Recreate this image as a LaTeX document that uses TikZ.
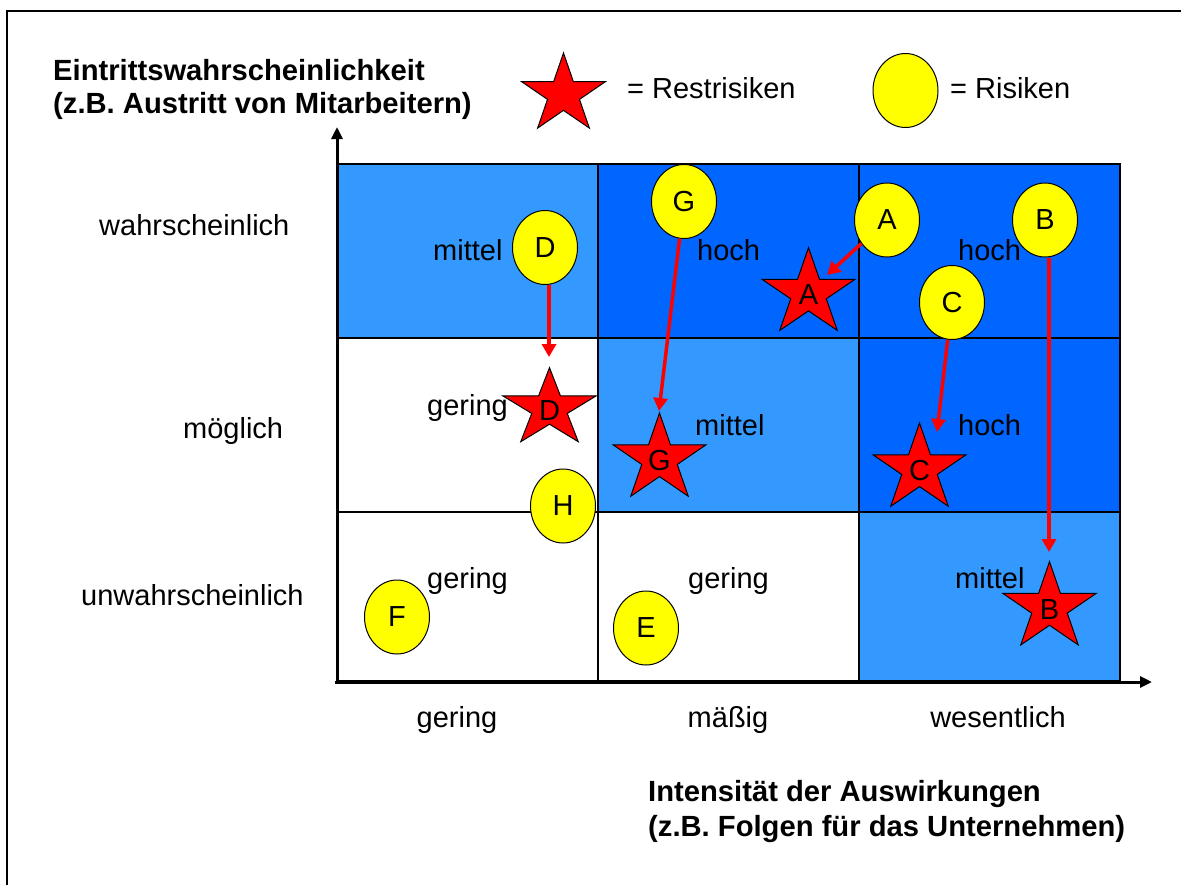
\documentclass[tikz,border=0pt]{standalone}
\usepackage{fontspec}
\setmainfont{Liberation Sans}
\usetikzlibrary{arrows.meta,calc,shapes.geometric}
\definecolor{lightblue}{RGB}{51,153,255}
\definecolor{darkblue}{RGB}{0,102,255}
\definecolor{riskyellow}{RGB}{255,255,0}
\definecolor{starred}{RGB}{255,0,0}
\tikzset{
  lbl/.style={font=\fontsize{29}{33}\selectfont, inner sep=0pt, anchor=base west},
  ttl/.style={font=\fontsize{29.2}{33}\selectfont\bfseries, inner sep=0pt, anchor=base west},
  collbl/.style={font=\fontsize{29}{33}\selectfont, inner sep=0pt, anchor=base},
  risk/.style={ellipse, draw=black, line width=1pt, fill=riskyellow, minimum width=65pt, minimum height=74pt, inner sep=0pt, font=\fontsize{29}{33}\selectfont},
  starfill/.style={fill=starred, draw=black, line width=1pt, line join=miter},
  starlbl/.style={inner sep=0pt, font=\fontsize{29}{33}\selectfont},
  gridline/.style={draw=black, line width=1.3pt},
  axisline/.style={draw=black, line width=3pt, -{Triangle[length=12pt,width=11pt]}},
  riskarrow/.style={draw=starred, line width=3.5pt, -{Triangle[length=13pt,width=14pt]}},
}
\newcommand\riskstar[6]{% name, x, y, rx, ry, letter
  \coordinate (#1) at (#2,#3);
  \filldraw[starfill] plot[samples at={0,...,9}, variable=\k]
    ({#2+#4*(0.691+0.309*cos(180*\k))*cos(270+36*\k)},
     {#3+#5*(0.691+0.309*cos(180*\k))*sin(270+36*\k)}) -- cycle;
  \node[starlbl] (l#1) at ($(#1)+(0,1.5)$) {#6};
}
\begin{document}
\begin{tikzpicture}[x=1pt,y=-1pt]
\useasboundingbox (0,0) rectangle (1181,884);
\fill[white] (0,0) rectangle (1181,884);
% outer frame
\draw[line width=2pt] (7,890) -- (7,11) -- (1190,11);

% title
\node[ttl] (t1) at (53,80) {Eintrittswahrscheinlichkeit};
\node[ttl] (t2) at (53,113) {(z.B. Austritt von Mitarbeitern)};

% legend
\riskstar{legstar}{563.5}{94.5}{44}{41.5}{}
\node[lbl] (legstartxt) at (627,98) {= Restrisiken};
\node[risk] (legell) at (905.5,90.5) {};
\node[lbl] (legelltxt) at (950,98) {= Risiken};

% cells
\fill[lightblue] (337,164) rectangle (598,338);
\fill[darkblue] (598,164) rectangle (1120,338);
\fill[lightblue] (598,338) rectangle (859,512);
\fill[darkblue] (859,338) rectangle (1120,512);
\fill[lightblue] (859,512) rectangle (1120,681);
\draw[gridline] (337,164) rectangle (1120,681);
\draw[gridline] (598,164) -- (598,681);
\draw[gridline] (859,164) -- (859,681);
\draw[gridline] (337,338) -- (1120,338);
\draw[gridline] (337,512) -- (1120,512);

% axes
\coordinate (origin) at (337,682);
\coordinate (ytip) at (337,127);
\coordinate (xorig) at (335,682);
\coordinate (xtip) at (1152,682);
\draw[axisline] (origin) -- (ytip);
\draw[axisline] (xorig) -- (xtip);

% row labels
\node[lbl] (r1) at (99,235) {wahrscheinlich};
\node[lbl] (r2) at (183,438) {möglich};
\node[lbl] (r3) at (81,605) {unwahrscheinlich};

% column labels
\node[collbl] (c1) at (457,727) {gering};
\node[collbl] (c2) at (728,727) {mäßig};
\node[collbl] (c3) at (998,727) {wesentlich};

% axis title
\node[ttl] (b1) at (648,801) {Intensität der Auswirkungen};
\node[ttl] (b2) at (648,836) {(z.B. Folgen für das Unternehmen)};

% cell labels
\node[lbl] (m11) at (433,260) {mittel};
\node[lbl] (m12) at (697,260) {hoch};
\node[lbl] (m13) at (958,260) {hoch};
\node[lbl] (m21) at (427,415) {gering};
\node[lbl] (m22) at (695,435) {mittel};
\node[lbl] (m23) at (958,435) {hoch};
\node[lbl] (m31) at (427,588) {gering};
\node[lbl] (m32) at (688,588) {gering};
\node[lbl] (m33) at (955,588) {mittel};

% risks
\node[risk] (eD) at (545,247.5) {D};
\node[risk] (eG) at (684,201.5) {G};
\node[risk] (eA) at (887,220) {A};
\node[risk] (eB) at (1045,220) {B};
\node[risk] (eC) at (952,302.5) {C};
\node[risk] (eH) at (563,506) {H};
\node[risk] (eF) at (397,617) {F};
\node[risk] (eE) at (646,628) {E};

% residual risks
\riskstar{sA}{808.5}{293.4}{48.9}{45.7}{A}
\riskstar{sD}{549.5}{408.6}{48.9}{40.9}{D}
\riskstar{sG}{659.5}{459}{48.9}{46}{G}
\riskstar{sC}{919.5}{469}{48.9}{46}{C}
\riskstar{sB}{1049.5}{607.7}{48.9}{46}{B}

% arrows
\coordinate (tD) at (549,357);
\coordinate (tG) at (659,411);
\coordinate (tA) at (827,275);
\coordinate (tC) at (937,432);
\coordinate (tB) at (1049,552);
\draw[riskarrow] (eD.south -| tD) -- (tD);
\draw[riskarrow] (eG) -- (tG);
\draw[riskarrow] (eA) -- (tA);
\draw[riskarrow] (eC) -- (tC);
\draw[riskarrow] (eB.south -| tB) -- (tB);
\end{tikzpicture}
\end{document}
